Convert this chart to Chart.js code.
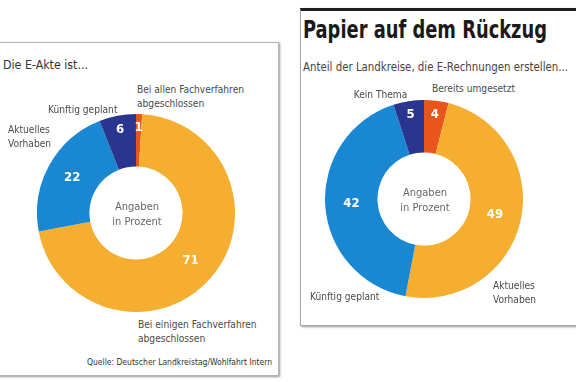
<!DOCTYPE html>
<html><head><meta charset="utf-8">
<script src="https://cdn.jsdelivr.net/npm/chart.js@4"></script>
<style>
html,body{margin:0;padding:0;background:#fff;width:576px;height:382px;overflow:hidden;}
body{position:relative;font-family:"Liberation Sans Narrow","DejaVu Sans Condensed","Roboto",Arial,sans-serif;}
.box{position:absolute;box-sizing:border-box;}
.t{position:absolute;white-space:nowrap;color:#4a4a4a;font-size:11px;line-height:14px;}
canvas{position:absolute;}
</style></head>
<body>
<div class="box" style="left:-2px;top:42px;width:281px;height:334px;border:1px solid #b5b5b5;box-shadow:1px 1px 2px #999;"></div>
<div class="box" style="left:300px;top:8px;width:280px;height:318px;border:1px solid #a8a8a8;border-top:3px solid #1e1e1e;box-shadow:1px 1px 2px #999;"></div>

<div class="t" id="leftTitle" data-w="85" style="left:3px;top:58px;font-size:12px;color:#333;"></div>
<div class="t" id="rightTitle" data-w="244" style="left:303px;top:16px;font-size:24px;line-height:28px;font-weight:bold;color:#1a1a1a;"></div>
<div class="t" id="rightSub" data-w="265" style="left:303px;top:60px;font-size:11.5px;color:#444;"></div>
<div class="t" id="source" data-w="185" style="left:87px;top:358px;font-size:8px;line-height:10px;color:#333;"></div>

<canvas id="c1" width="198" height="198" style="left:37px;top:114px;width:198px;height:198px;"></canvas>
<canvas id="c2" width="198" height="198" style="left:325px;top:100px;width:198px;height:198px;"></canvas>

<script>
// ---- data ----
const leftTitle = "Die E-Akte ist...";
const leftCategories = [["Bei allen Fachverfahren","abgeschlossen"],["Bei einigen Fachverfahren","abgeschlossen"],["Aktuelles","Vorhaben"],["Künftig geplant"]];
const leftValues = [1, 71, 22, 6];

const rightTitle = "Papier auf dem Rückzug";
const rightSubtitle = "Anteil der Landkreise, die E-Rechnungen erstellen...";
const rightCategories = [["Bereits umgesetzt"],["Aktuelles","Vorhaben"],["Künftig geplant"],["Kein Thema"]];
const rightValues = [4, 49, 42, 5];

const centerText = ["Angaben","in Prozent"];
const sourceText = "Quelle: Deutscher Landkreistag/Wohlfahrt Intern";

// ---- styles / layout ----
const sliceColors = ["#e8561c", "#f6ae30", "#1a87d2", "#2a3590"];
const textScale = 0.92;
const leftLabelPos = [{x:137,y:90,a:"l"},{x:138,y:325,a:"l"},{x:8,y:130,a:"l"},{x:117,y:110,a:"r"}];
const rightLabelPos = [{x:432,y:89,a:"l"},{x:493,y:286,a:"l"},{x:310,y:297,a:"l"},{x:407,y:95,a:"r"}];

document.getElementById("leftTitle").textContent = leftTitle;
document.getElementById("rightTitle").textContent = rightTitle;
document.getElementById("rightSub").textContent = rightSubtitle;
document.getElementById("source").textContent = sourceText;

function placeLabels(cats, pos){
  cats.forEach((lines,i)=>{
    const d = document.createElement("div");
    d.className = "t";
    d.innerHTML = lines.map(s=>s.replace(/&/g,"&amp;")).join("<br>");
    d.style.top = (pos[i].y - 7) + "px";
    if(pos[i].a === "r"){ d.style.right = (576 - pos[i].x) + "px"; d.style.textAlign = "right"; d.style.transformOrigin = "right top"; }
    else { d.style.left = pos[i].x + "px"; d.style.transformOrigin = "left top"; }
    d.style.transform = "scaleX(" + textScale + ")";
    document.body.appendChild(d);
  });
}
placeLabels(leftCategories, leftLabelPos);
placeLabels(rightCategories, rightLabelPos);

document.querySelectorAll("[data-w]").forEach(el=>{
  const w = el.getBoundingClientRect().width;
  const target = +el.dataset.w;
  el.style.transformOrigin = "left top";
  el.style.transform = "scaleX(" + (target / w) + ")";
});

const valuePlugin = {
  id: "values",
  afterDatasetsDraw(chart){
    const ctx = chart.ctx;
    const meta = chart.getDatasetMeta(0);
    const vals = chart.data.datasets[0].data;
    ctx.save();
    ctx.fillStyle = "#fff";
    ctx.font = "600 13px 'Liberation Sans Narrow','DejaVu Sans Condensed',Roboto,Arial,sans-serif";
    ctx.textAlign = "center";
    ctx.textBaseline = "middle";
    meta.data.forEach((arc,i)=>{
      const p = arc.getProps(["x","y","startAngle","endAngle","innerRadius","outerRadius"], true);
      const mid = (p.startAngle + p.endAngle)/2;
      const f = vals[i] < 8 ? 0.74 : 0.5;
      const r = p.innerRadius + (p.outerRadius - p.innerRadius)*f;
      ctx.fillText(String(vals[i]), p.x + Math.cos(mid)*r, p.y + Math.sin(mid)*r);
    });
    ctx.fillStyle = "#666";
    ctx.font = "11px 'Liberation Sans Narrow','DejaVu Sans Condensed',Roboto,Arial,sans-serif";
    const cx = (chart.chartArea.left + chart.chartArea.right)/2;
    const cy = (chart.chartArea.top + chart.chartArea.bottom)/2;
    ctx.fillText(centerText[0], cx + 1, cy - 6);
    ctx.fillText(centerText[1], cx + 1, cy + 9);
    ctx.restore();
  }
};

function makeChart(id, cats, vals){
  new Chart(document.getElementById(id), {
    type: "doughnut",
    data: {
      labels: cats.map(l=>l.join(" ")),
      datasets: [{ data: vals, backgroundColor: sliceColors, borderWidth: 0 }]
    },
    options: {
      responsive: false,
      animation: false,
      cutout: "47%",
      layout: { padding: 0 },
      plugins: { legend: { display: false }, tooltip: { enabled: false } }
    },
    plugins: [valuePlugin]
  });
}
makeChart("c1", leftCategories, leftValues);
makeChart("c2", rightCategories, rightValues);
</script>
</body></html>
